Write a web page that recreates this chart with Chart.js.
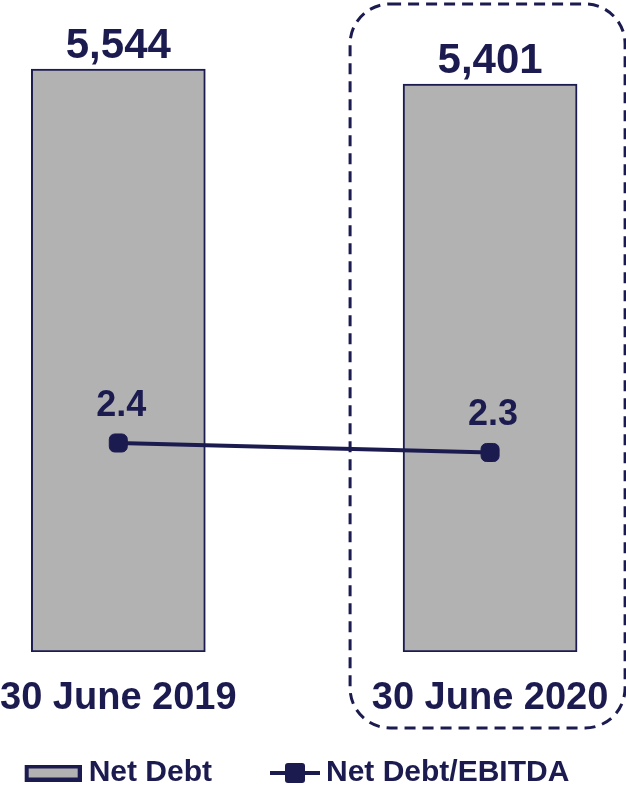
<!DOCTYPE html>
<html>
<head>
<meta charset="utf-8">
<title>Net Debt and Net Debt/EBITDA</title>
<script src="https://cdn.jsdelivr.net/npm/chart.js@4/dist/chart.umd.min.js"></script>
<style>
  html, body { margin: 0; padding: 0; background: #ffffff; }
  #wrap { width: 626px; height: 789px; }
</style>
</head>
<body>
<div id="wrap"><canvas id="chart" width="626" height="789"></canvas></div>
<script>
// Reporting dates on the horizontal axis
const periods = ['30 June 2019', '30 June 2020'];
// Net debt (bars) and leverage ratio (line)
const netDebt = [5544, 5401];
const netDebtToEbitda = [2.4, 2.3];
const seriesNames = ['Net Debt', 'Net Debt/EBITDA'];

const NAVY = '#1c1b50';
const GREY = '#b2b2b2';
const FONT = '"Liberation Sans", Arial, Helvetica, sans-serif';

// Legend swatch for the bar series: grey fill inside a heavy navy frame
function makeBarSwatch() {
  const c = document.createElement('canvas');
  c.width = 75; c.height = 17;
  const g = c.getContext('2d');
  g.fillStyle = NAVY;
  g.fillRect(18, 0, 57, 17);
  g.fillStyle = GREY;
  g.fillRect(22, 4, 49, 9);
  return c;
}

// Legend swatch for the line series: short stroke with a rounded square marker
function makeLineSwatch() {
  const c = document.createElement('canvas');
  c.width = 77; c.height = 20;
  const g = c.getContext('2d');
  g.fillStyle = NAVY;
  g.fillRect(27, 8, 50, 4);
  g.beginPath();
  const x = 42, y = 0, w = 20, h = 20, r = 3;
  g.moveTo(x + r, y);
  g.arcTo(x + w, y, x + w, y + h, r);
  g.arcTo(x + w, y + h, x, y + h, r);
  g.arcTo(x, y + h, x, y, r);
  g.arcTo(x, y, x + w, y, r);
  g.closePath();
  g.fill();
  return c;
}

const legendSwatches = [makeBarSwatch(), makeLineSwatch()];

// Dashed rounded frame around the latest period
const highlightFrame = {
  id: 'highlightFrame',
  beforeDatasetsDraw(chart) {
    const ctx = chart.ctx;
    const cx = chart.scales.x.getPixelForValue(1);
    const left = cx - 140, right = cx + 135, top = 4, bottom = 728, r = 40;
    ctx.save();
    ctx.strokeStyle = NAVY;
    ctx.lineWidth = 3;
    ctx.setLineDash([11, 7]);
    ctx.beginPath();
    ctx.moveTo(left + r, top);
    ctx.arcTo(right, top, right, bottom, r);
    ctx.arcTo(right, bottom, left, bottom, r);
    ctx.arcTo(left, bottom, left, top, r);
    ctx.arcTo(left, top, right, top, r);
    ctx.closePath();
    ctx.stroke();
    ctx.restore();
  }
};

// Value labels above the bars and above the line markers
const valueLabels = {
  id: 'valueLabels',
  afterDatasetsDraw(chart) {
    const ctx = chart.ctx;
    ctx.save();
    ctx.fillStyle = NAVY;
    ctx.textAlign = 'center';
    ctx.textBaseline = 'alphabetic';

    ctx.font = 'bold 42px ' + FONT;
    chart.getDatasetMeta(0).data.forEach((el, i) => {
      ctx.fillText(netDebt[i].toLocaleString('en-US'), el.x, el.y - 11);
    });

    ctx.font = 'bold 36px ' + FONT;
    chart.getDatasetMeta(1).data.forEach((el, i) => {
      ctx.fillText(netDebtToEbitda[i].toFixed(1), el.x + 3, el.y - 27);
    });
    ctx.restore();
  }
};

new Chart(document.getElementById('chart'), {
  type: 'bar',
  data: {
    datasets: [
      {
        type: 'bar',
        label: seriesNames[0],
        data: netDebt.map((v, i) => ({ x: i, y: v })),
        backgroundColor: GREY,
        borderColor: NAVY,
        borderWidth: 2,
        borderSkipped: false,
        barThickness: 174,
        yAxisID: 'y',
        order: 1
      },
      {
        type: 'line',
        label: seriesNames[1],
        data: netDebtToEbitda.map((v, i) => ({ x: i, y: v })),
        borderColor: NAVY,
        backgroundColor: NAVY,
        borderWidth: 4,
        pointStyle: 'rectRounded',
        pointRadius: 10.5,
        pointBorderWidth: 1,
        pointBackgroundColor: NAVY,
        pointBorderColor: NAVY,
        tension: 0,
        fill: false,
        yAxisID: 'y2',
        order: 0
      }
    ]
  },
  options: {
    responsive: false,
    devicePixelRatio: 1,
    animation: false,
    events: [],
    layout: { autoPadding: false, padding: { left: -42, right: 0, top: 0, bottom: -9 } },
    scales: {
      x: {
        type: 'linear',
        min: -0.3172,
        max: 1.3656,
        offset: false,
        grid: { display: false, drawTicks: true, tickLength: 28 },
        border: { display: false },
        ticks: {
          stepSize: 1,
          includeBounds: false,
          color: NAVY,
          padding: 0,
          maxRotation: 0,
          autoSkip: false,
          font: { family: FONT, size: 38, weight: 'bold', lineHeight: 1 },
          callback: (value) => periods[value] ?? ''
        }
      },
      y: {
        display: false,
        min: 0,
        max: 6200
      },
      y2: {
        display: false,
        position: 'right',
        min: 0.2,
        max: 7.063
      }
    },
    plugins: {
      tooltip: { enabled: false },
      title: { display: false },
      legend: {
        display: true,
        position: 'bottom',
        labels: {
          usePointStyle: true,
          pointStyleWidth: 59,
          boxHeight: 30,
          padding: 40,
          color: NAVY,
          font: { family: FONT, size: 30, weight: 'bold' },
          generateLabels(chart) {
            return chart.data.datasets.map((ds, i) => ({
              text: ds.label,
              pointStyle: legendSwatches[i],
              fillStyle: ds.backgroundColor,
              strokeStyle: ds.borderColor,
              lineWidth: 0,
              fontColor: NAVY,
              hidden: false,
              datasetIndex: i
            }));
          }
        }
      }
    }
  },
  plugins: [highlightFrame, valueLabels]
});
</script>
</body>
</html>
